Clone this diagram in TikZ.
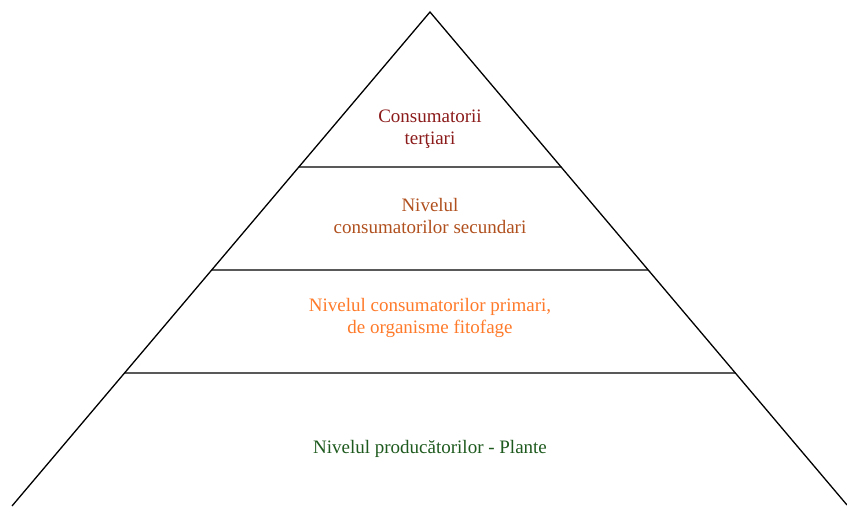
\documentclass[tikz,border=0pt]{standalone}
\usepackage{fontspec}
\setmainfont{Liberation Serif}
\usetikzlibrary{calc}
\definecolor{tertcol}{HTML}{8B1A1A}
\definecolor{seccol}{HTML}{B0501E}
\definecolor{primcol}{HTML}{FF7A2A}
\definecolor{prodcol}{HTML}{1E5A1E}
\begin{document}
\begin{tikzpicture}[x=1pt,y=-1pt,
  edge/.style={line width=1.3pt,black},
  lbl/.style={align=center,font=\fontsize{19}{22}\selectfont,inner sep=0pt}]
\useasboundingbox (0,0) rectangle (847,508);
\coordinate (apex) at (430,12);
\coordinate (bl) at (12,506);
\coordinate (br) at (847,505);
\draw[edge] (bl) -- (apex) -- (br);
\foreach \y/\n in {167/a,270/b,373/c}{
  \coordinate (l\n) at ($(apex)!{(\y-12)/494}!(bl)$);
  \coordinate (r\n) at ($(apex)!{(\y-12)/493}!(br)$);
  \draw[edge] (l\n) -- (r\n);
}
\node[lbl,text=tertcol] (t1) at (430,129) {Consumatorii\\terţiari};
\node[lbl,text=seccol] (t2) at (430,216) {Nivelul\\consumatorilor secundari};
\node[lbl,text=primcol] (t3) at (430,318) {Nivelul consumatorilor primari,\\de organisme fitofage};
\node[lbl,text=prodcol] (t4) at (430,449) {Nivelul producătorilor - Plante};
\end{tikzpicture}
\end{document}
